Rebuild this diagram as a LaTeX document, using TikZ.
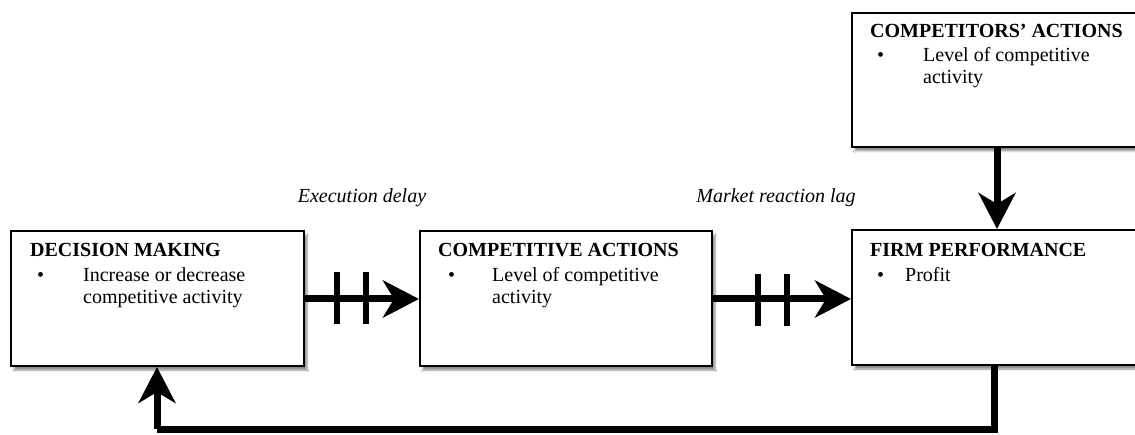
\documentclass[tikz,border=0pt]{standalone}
\usepackage{fontspec}
\setmainfont{Liberation Serif}
\usetikzlibrary{arrows.meta,shadows.blur}
\begin{document}
\begin{tikzpicture}[x=1pt,y=-1pt,
  box/.style={draw=black,line width=2pt,fill=white,anchor=north west,inner sep=0pt,
    blur shadow={shadow xshift=3pt,shadow yshift=-4pt,shadow blur steps=6,shadow opacity=45}},
  ttl/.style={anchor=base west,inner sep=0pt,font=\fontsize{20}{22}\selectfont\bfseries},
  txt/.style={anchor=base west,inner sep=0pt,font=\fontsize{20}{22}\selectfont},
  lbl/.style={anchor=base,inner sep=0pt,font=\fontsize{20}{22}\selectfont\itshape},
  arr/.style={line width=7pt,-{Stealth[length=36pt,width=37pt,inset=11pt]}},
  tick/.style={line width=6pt},
  feed/.style={line width=7pt}]
\useasboundingbox (0,0) rectangle (1135,435);
\fill[white] (0,0) rectangle (1135,435);
% boxes
\node[box,minimum width=293pt,minimum height=135pt] (dm) at (10,230) {};
\node[box,minimum width=292pt,minimum height=135pt] (ca) at (419,230) {};
\node[box,minimum width=300pt,minimum height=135pt] (fp) at (851,229) {};
\node[box,minimum width=300pt,minimum height=134pt] (co) at (851,12) {};
% texts
\node[ttl] (dmt) at (30,257) {DECISION MAKING};
\node[txt] (dmb) at (37,282) {•};
\node[txt] (dm1) at (83,282) {Increase or decrease};
\node[txt] (dm2) at (83,304) {competitive activity};
\node[ttl] (cat) at (438,257) {COMPETITIVE ACTIONS};
\node[txt] (cab) at (448,282) {•};
\node[txt] (ca1) at (492,282) {Level of competitive};
\node[txt] (ca2) at (492,304) {activity};
\node[ttl] (fpt) at (870,257) {FIRM PERFORMANCE};
\node[txt] (fpb) at (877,282) {•};
\node[txt] (fp1) at (905,282) {Profit};
\node[ttl] (cot) at (870,38) {COMPETITORS’ ACTIONS};
\node[txt] (cob) at (877,62) {•};
\node[txt] (co1) at (923,62) {Level of competitive};
\node[txt] (co2) at (923,84) {activity};
\node[lbl] (l1) at (362,203) {Execution delay};
\node[lbl] (l2) at (776,203) {Market reaction lag};
% connectors
\coordinate (h1) at (0,299);
\coordinate (v1) at (997,0);
\coordinate (fb1) at (994,429);
\coordinate (fb2) at (157,429);
\draw[arr] (dm.east |- h1) -- (ca.west |- h1);
\draw[arr] (ca.east |- h1) -- (fp.west |- h1);
\draw[arr] (co.south -| v1) -- (fp.north -| v1);
\draw[feed] (fp.south -| fb1) -- (fb1) -- (fb2);
\draw[arr] (fb2) -- (dm.south -| fb2);
% delay ticks
\draw[tick] (337,272) -- (337,324);
\draw[tick] (366,272) -- (366,324);
\draw[tick] (758,274) -- (758,326);
\draw[tick] (787,274) -- (787,326);
\end{tikzpicture}
\end{document}
